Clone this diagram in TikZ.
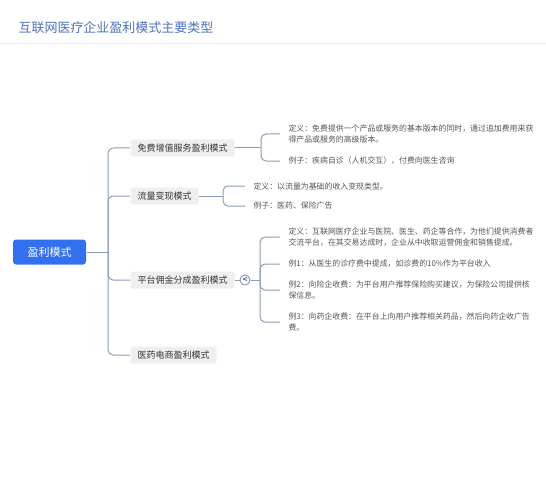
\documentclass[tikz,border=0pt]{standalone}
\usepackage{fontspec}
\setmainfont{Noto Sans CJK SC}
\usetikzlibrary{positioning, calc}
\definecolor{croot}{HTML}{3370F0}
\definecolor{cline}{HTML}{8C9CB8}
\definecolor{cfold}{HTML}{5B6E94}
\definecolor{cfill}{HTML}{EFEFEF}
\definecolor{ctext}{HTML}{333333}
\definecolor{cleaf}{HTML}{555555}
\definecolor{ctitle}{HTML}{4D72BD}
\definecolor{crule}{HTML}{EEEEEE}
\tikzset{
  every picture/.style={line width=1pt},
  root/.style={fill=croot, text=white, rounded corners=3pt, minimum width=73pt, minimum height=25pt, font=\fontsize{11}{13}\selectfont},
  branch/.style={fill=cfill, text=ctext, rounded corners=2pt, anchor=west, inner xsep=7pt, minimum height=17pt, font=\fontsize{9}{11}\selectfont},
  leaf/.style={text=cleaf, anchor=west, inner xsep=8pt, align=left, font=\fontsize{7.9}{11}\selectfont},
  link/.style={draw=cline, rounded corners=5pt},
  fold/.style={circle, draw=cline, fill=white, inner sep=0pt, minimum size=10pt, text=cfold, font=\fontsize{8}{8}\selectfont\bfseries},
  title/.style={text=ctitle, anchor=west, inner sep=0pt, font=\fontsize{13}{15}\selectfont},
}
\begin{document}
\begin{tikzpicture}[x=1pt, y=-1pt]
  \useasboundingbox (0,0) rectangle (546,500);
  \node[title] (title) at (18,28) {互联网医疗企业盈利模式主要类型};
  \draw[crule] (0,44) -- (546,44);
  \node[root] (root) at (49.5,252) {盈利模式};
  \coordinate (trunk) at (108,252);
  \draw[link] (root) -- (trunk);
  \node[branch] (b1) at (130,148) {免费增值服务盈利模式};
  \node[branch] (b2) at (130,196) {流量变现模式};
  \node[branch] (b3) at (130,280) {平台佣金分成盈利模式};
  \node[branch] (b4) at (130,355) {医药电商盈利模式};
  \foreach \i in {1,...,4} \draw[link] (trunk) |- (b\i.west);
  % free + paid
  \coordinate (k1) at (261,148);
  \draw[link] (b1) -- (k1);
  \node[leaf] (l11) at (280,134) {定义：免费提供一个产品或服务的基本版本的同时，通过追加费用来获\\得产品或服务的高级版本。};
  \node[leaf] (l12) at (280,161) {例子：疾病自诊（人机交互），付费向医生咨询};
  \foreach \j in {1,2} \draw[link] (k1) |- (l1\j.west);
  % traffic
  \coordinate (k2) at (223,196);
  \draw[link] (b2) -- (k2);
  \node[leaf] (l21) at (245,186) {定义：以流量为基础的收入变现类型。};
  \node[leaf] (l22) at (245,206) {例子：医药、保险广告};
  \foreach \j in {1,2} \draw[link] (k2) |- (l2\j.west);
  % commission
  \node[fold] (f3) at (245,280) {\textless};
  \coordinate (k3) at (260,280);
  \draw[link] (b3) -- (f3);
  \draw[link] (f3) -- (k3);
  \node[leaf] (l31) at (280,237) {定义：互联网医疗企业与医院、医生、药企等合作，为他们提供消费者\\交流平台，在其交易达成时，企业从中收取运营佣金和销售提成。};
  \node[leaf] (l32) at (280,264) {例1：从医生的诊疗费中提成，如诊费的10\%作为平台收入};
  \node[leaf] (l33) at (280,290) {例2：向险企收费：为平台用户推荐保险购买建议，为保险公司提供核\\保信息。};
  \node[leaf] (l34) at (280,322) {例3：向药企收费：在平台上向用户推荐相关药品，然后向药企收广告\\费。};
  \foreach \j in {1,...,4} \draw[link] (k3) |- (l3\j.west);
\end{tikzpicture}
\end{document}
